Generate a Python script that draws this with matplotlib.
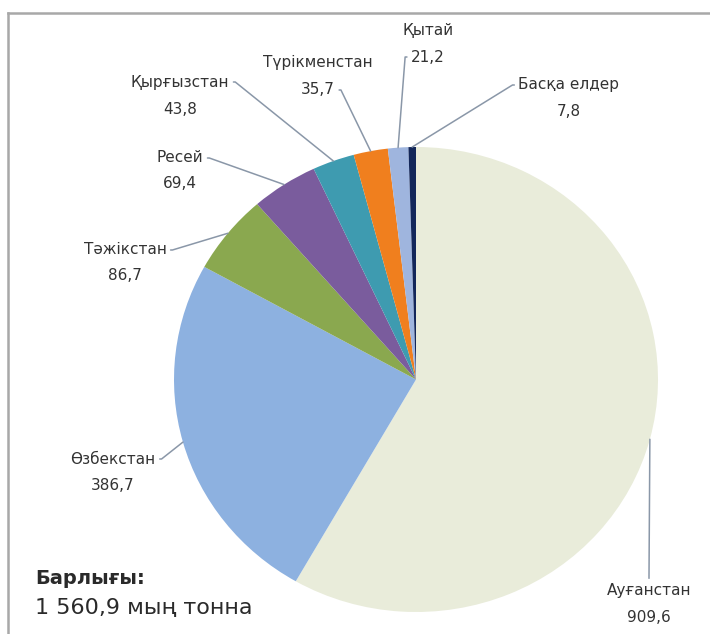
import numpy as np
import matplotlib
matplotlib.use("Agg")
import matplotlib.pyplot as plt
from matplotlib.lines import Line2D

countries = ["Ауғанстан", "Өзбекстан", "Тәжікстан", "Ресей",
             "Қырғызстан", "Түрікменстан", "Қытай", "Басқа елдер"]
values = [909.6, 386.7, 86.7, 69.4, 43.8, 35.7, 21.2, 7.8]
value_labels = ["909,6", "386,7", "86,7", "69,4", "43,8", "35,7", "21,2", "7,8"]
colors = ["#e9ecda", "#8db1e0", "#8aa84f", "#7a5c9d", "#3e9bb0",
          "#f07f1e", "#9fb5de", "#13275a"]
total_title = "Барлығы:"
total_text = "1 560,9 мың тонна"

W, H = 710, 634
fig = plt.figure(figsize=(W / 100, H / 100), dpi=100)


def fx(x):
    return x / W


def fy(y):
    return 1 - y / H


# frame (top and left edges only are visible)
fig.add_artist(Line2D([fx(8), fx(8)], [fy(13), 0], color="#a8a8a8", lw=1.8))
fig.add_artist(Line2D([fx(8), 1], [fy(13), fy(13)], color="#a8a8a8", lw=1.8))

# pie area in pixels
left, top, right, bottom = 174, 147, 658, 612
ax = fig.add_axes([fx(left), fy(bottom), (right - left) / W, (bottom - top) / H])
wedges, _ = ax.pie(values, colors=colors, startangle=90, counterclock=False,
                   radius=1, wedgeprops=dict(linewidth=0))
ax.set_aspect("auto")
ax.set_xlim(-1, 1)
ax.set_ylim(-1, 1)
ax.axis("off")

# label layout: name centre x, name y, value y, attach to, relpos, arm angle
layout = [
    (649, 590, 617, "name", (0.5, 1.0), 90),
    (113, 459, 486, "name", (1.0, 0.5), 0),
    (125, 250, 276, "name", (1.0, 0.5), 0),
    (180, 158, 184, "name", (1.0, 0.5), 0),
    (180, 82, 110, "name", (1.0, 0.5), 0),
    (318, 62, 90, "value", (1.0, 0.5), 0),
    (428, 30, 57, "value", (0.0, 0.5), 180),
    (569, 85, 112, "name", (0.0, 0.5), 180),
]

txt_color = "#333333"
line_color = "#8a97a8"
fs = 11

for w, name, vlab, (cx, ny, vy, anchor, rp, ang) in zip(wedges, countries, value_labels, layout):
    mid = np.deg2rad((w.theta1 + w.theta2) / 2)
    px, py = np.cos(mid), np.sin(mid)
    if anchor == "name":
        main, main_y, other, other_y = name, ny, vlab, vy
    else:
        main, main_y, other, other_y = vlab, vy, name, ny
    ax.annotate(main, xy=(px, py), xytext=(fx(cx), fy(main_y)),
                textcoords="figure fraction", ha="center", va="center",
                fontsize=fs, color=txt_color,
                arrowprops=dict(arrowstyle="-", color=line_color, lw=1.1,
                                relpos=rp, shrinkA=1, shrinkB=0,
                                connectionstyle=f"arc,angleA={ang},armA=6,angleB=0,armB=0,rad=0"))
    fig.text(fx(cx), fy(other_y), other, ha="center", va="center",
             fontsize=fs, color=txt_color)

fig.text(fx(35), fy(578), total_title, ha="left", va="center",
         fontsize=14, fontweight="bold", color="#2a2a2a")
fig.text(fx(35), fy(608), total_text, ha="left", va="center",
         fontsize=16, color="#2a2a2a")

fig.savefig("out.png", dpi=100)
